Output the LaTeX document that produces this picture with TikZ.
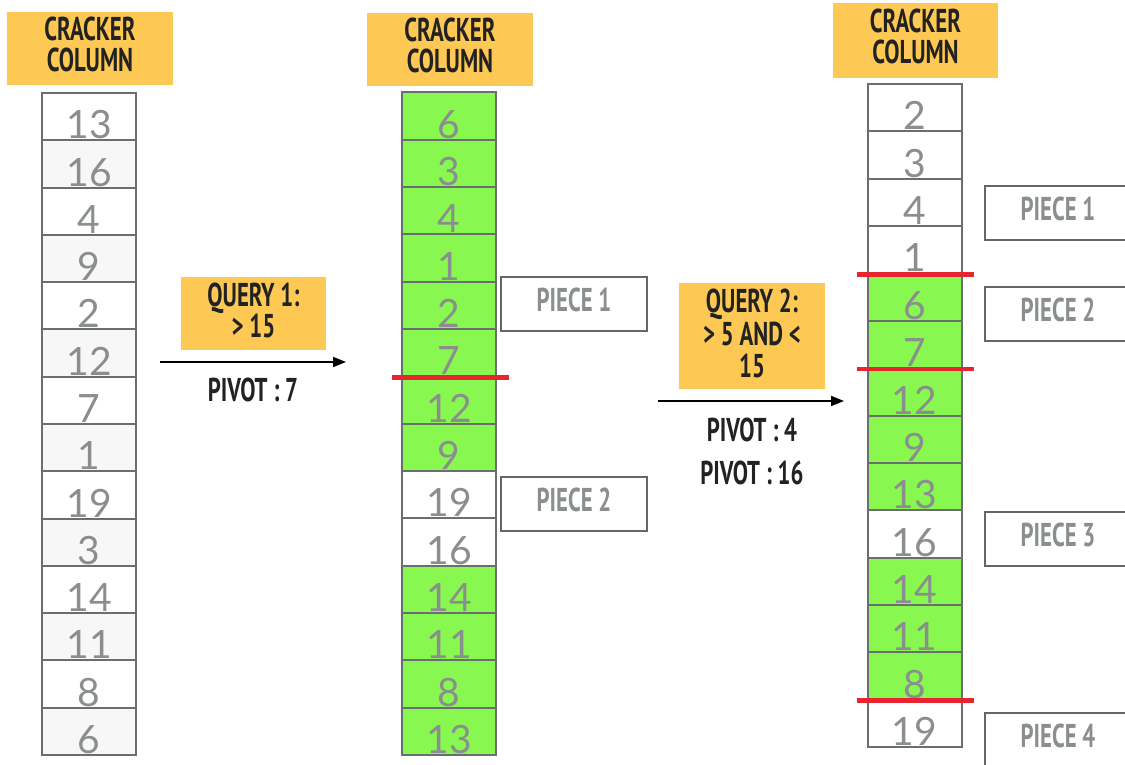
\documentclass[tikz,border=0pt]{standalone}
\usepackage{fontspec}
\usetikzlibrary{arrows.meta}
\newfontfamily\numfont{Lato}
\newfontfamily\dinfont[FakeStretch=0.69]{PT Sans}
\definecolor{hdr}{HTML}{FDC853}
\definecolor{grn}{HTML}{88F74F}
\definecolor{lgr}{HTML}{F7F7F7}
\definecolor{edge}{HTML}{6B6E70}
\definecolor{pedge}{HTML}{666666}
\definecolor{numc}{HTML}{8A8E8E}
\definecolor{redl}{HTML}{E8252F}
\definecolor{txt}{HTML}{222222}
\newcommand\crackcol[5]{%
  \foreach \v/\c [count=\i from 0] in {#5} {
    \node[cell,minimum height=#4 pt,fill=\c] (#1\i) at (#2, {#3+(\i+0.5)*#4}) {};
    \node[num] (#1n\i) at (#2, {#3+(\i+1)*#4-1.5}) {\v};
  }}
\begin{document}
\begin{tikzpicture}[x=1pt,y=-1pt,
  cell/.style={draw=edge,line width=2pt,minimum width=94pt,inner sep=0pt},
  num/.style={anchor=base,inner sep=0pt,text=numc,font=\numfont\fontsize{39}{39}\selectfont},
  box/.style={fill=hdr,inner sep=0pt},
  lbl/.style={inner sep=0pt,text=txt,align=center,font=\dinfont\bfseries\fontsize{33}{31}\selectfont},
  piece/.style={draw=pedge,line width=2pt,fill=white,minimum width=146pt,minimum height=54pt,inner sep=0pt},
  ptxt/.style={inner sep=0pt,text=numc,font=\dinfont\bfseries\fontsize{33}{31}\selectfont},
  pivot/.style={inner sep=0pt,text=txt,font=\dinfont\bfseries\fontsize{33}{31}\selectfont},
  redline/.style={draw=redl,line width=4.5pt},
  flow/.style={draw=black,line width=1.8pt,-{Triangle[length=13pt,width=10pt]}}]
\useasboundingbox (0,0) rectangle (1125,765);
\clip (0,0) rectangle (1125,765);
\fill[white] (0,0) rectangle (1125,765);
% headers
\node[box,minimum width=166pt,minimum height=73pt] (h1) at (90,48.5) {};
\node[lbl] (h1t) at ([yshift=4pt]h1.center) {CRACKER\\COLUMN};
\node[box,minimum width=166pt,minimum height=73pt] (h2) at (450,49.5) {};
\node[lbl] (h2t) at ([yshift=4pt]h2.center) {CRACKER\\COLUMN};
\node[box,minimum width=165pt,minimum height=75pt] (h3) at (915.5,40.5) {};
\node[lbl] (h3t) at ([yshift=4pt]h3.center) {CRACKER\\COLUMN};
% columns
\crackcol{a}{89}{93}{47.2857}{13/white,16/lgr,4/white,9/lgr,2/white,12/lgr,7/white,1/lgr,19/white,3/lgr,14/white,11/lgr,8/white,6/lgr}
\crackcol{b}{449}{92.5}{47.32}{6/grn,3/grn,4/grn,1/grn,2/grn,7/grn,12/grn,9/grn,19/white,16/white,14/grn,11/grn,8/grn,13/grn}
\crackcol{c}{914.5}{84}{47.36}{2/white,3/white,4/white,1/white,6/grn,7/grn,12/grn,9/grn,13/grn,16/white,14/grn,11/grn,8/grn,19/white}
% red cut lines
\draw[redline] ([xshift=-9pt]b5.south west) -- ([xshift=12pt]b5.south east);
\draw[redline] ([xshift=-10pt]c3.south west) -- ([xshift=11pt]c3.south east);
\draw[redline] ([xshift=-10pt]c5.south west) -- ([xshift=11pt]c5.south east);
\draw[redline] ([xshift=-10pt]c12.south west) -- ([xshift=11pt]c12.south east);
% pieces
\node[piece] (p21) at (574,304) {};
\node[ptxt] (p21t) at ([yshift=4pt]p21.center) {PIECE 1};
\node[piece] (p22) at (574,503.5) {};
\node[ptxt] (p22t) at ([yshift=4pt]p22.center) {PIECE 2};
\node[piece] (p31) at (1058,213) {};
\node[ptxt] (p31t) at ([yshift=4pt]p31.center) {PIECE 1};
\node[piece] (p32) at (1058,314) {};
\node[ptxt] (p32t) at ([yshift=4pt]p32.center) {PIECE 2};
\node[piece] (p33) at (1058,539) {};
\node[ptxt] (p33t) at ([yshift=4pt]p33.center) {PIECE 3};
\node[piece] (p34) at (1058,740) {};
\node[ptxt] (p34t) at ([yshift=4pt]p34.center) {PIECE 4};
% queries
\node[box,minimum width=145pt,minimum height=73pt] (q1) at (253.5,313.5) {};
\node[lbl] (q1t) at ([yshift=3.5pt]q1.center) {QUERY 1:\\> 15};
\node[box,minimum width=146pt,minimum height=106pt] (q2) at (752,336) {};
\node[lbl,font=\dinfont\bfseries\fontsize{33}{32.5}\selectfont] (q2t) at ([yshift=2.5pt]q2.center) {QUERY 2:\\> 5 AND <\\15};
\coordinate (a1s) at (160,362);
\coordinate (a1e) at (346,362);
\coordinate (a2s) at (658,401);
\coordinate (a2e) at (844,401);
\draw[flow] (a1s) -- (a1e);
\draw[flow] (a2s) -- (a2e);
\node[pivot] (v1) at (253,390) {PIVOT : 7};
\node[pivot] (v2) at (752,430) {PIVOT : 4};
\node[pivot] (v3) at (752,473) {PIVOT : 16};
\end{tikzpicture}
\end{document}
